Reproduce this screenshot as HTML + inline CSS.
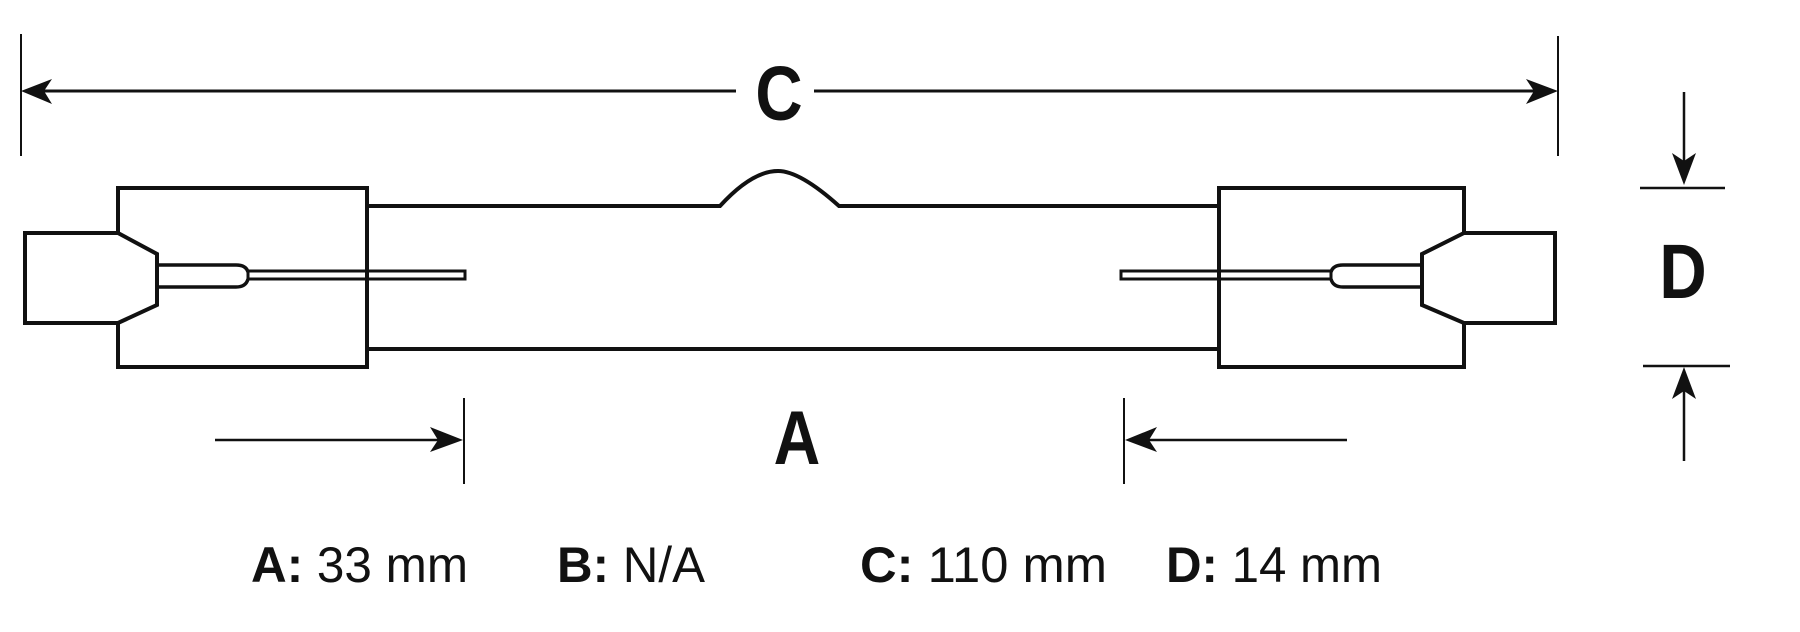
<!DOCTYPE html>
<html><head><meta charset="utf-8"><style>
html,body{margin:0;padding:0;background:#fff;}
svg{display:block;}
text{font-family:"Liberation Sans",Arial,sans-serif;fill:#111;}
</style></head><body>
<svg width="1800" height="632" viewBox="0 0 1800 632" xmlns="http://www.w3.org/2000/svg">
<g stroke="#111" fill="none">
  <line x1="21" y1="34" x2="21" y2="156" stroke-width="2"/>
  <line x1="1558" y1="36" x2="1558" y2="156" stroke-width="2"/>
  <line x1="30" y1="91" x2="736" y2="91" stroke-width="3"/>
  <line x1="814" y1="91" x2="1550" y2="91" stroke-width="3"/>
  <path d="M367 206 H720 Q752 171 778 171 Q800 171 839 206 H1219" stroke-width="4"/>
  <line x1="367" y1="349" x2="1219" y2="349" stroke-width="4"/>
  <path d="M118 233 V188 H367 V367 H118 V323" stroke-width="4"/>
  <path d="M118 233 H25 V323 H118 L157 305 V254 Z" stroke-width="4"/>
  <path d="M157 265 H236 Q246 265 248 272 M248 279 Q246 287 236 287 H157" stroke-width="3.5"/>
  <rect x="248" y="271" width="217" height="8" stroke-width="3"/>
  <path d="M1464 233 V188 H1219 V367 H1464 V323" stroke-width="4"/>
  <path d="M1464 233 H1555 V323 H1464 L1422 305 V254 Z" stroke-width="4"/>
  <path d="M1422 265 H1343 Q1333 265 1331 272 M1331 279 Q1333 287 1343 287 H1422" stroke-width="3.5"/>
  <rect x="1121" y="271" width="210" height="8" stroke-width="3"/>
  <line x1="464" y1="398" x2="464" y2="484" stroke-width="2"/>
  <line x1="1124" y1="398" x2="1124" y2="484" stroke-width="2"/>
  <line x1="215" y1="440" x2="450" y2="440" stroke-width="2.5"/>
  <line x1="1135" y1="440" x2="1347" y2="440" stroke-width="2.5"/>
  <line x1="1640" y1="188" x2="1725" y2="188" stroke-width="2.5"/>
  <line x1="1643" y1="366" x2="1730" y2="366" stroke-width="2.5"/>
  <line x1="1684" y1="92" x2="1684" y2="172" stroke-width="2.5"/>
  <line x1="1684" y1="382" x2="1684" y2="461" stroke-width="2.5"/>
</g>
<g fill="#111">
  <path d="M21 91 L52 79 L44 91 L52 104 Z"/>
  <path d="M1558 91 L1526 79 L1534 91 L1526 104 Z"/>
  <path d="M463 440 L430 427 L438 440 L430 452 Z"/>
  <path d="M1125 440 L1157 427 L1149 440 L1157 452 Z"/>
  <path d="M1684 185 L1672 153 L1684 161 L1696 153 Z"/>
  <path d="M1684 367 L1672 399 L1684 391 L1696 399 Z"/>
</g>
<text x="779" y="120" font-size="77" font-weight="bold" text-anchor="middle" transform="translate(779 0) scale(0.85 1) translate(-779 0)">C</text>
<text x="797" y="464" font-size="76" font-weight="bold" text-anchor="middle" transform="translate(797 0) scale(0.85 1) translate(-797 0)">A</text>
<text x="1683" y="298" font-size="77" font-weight="bold" text-anchor="middle" transform="translate(1683 0) scale(0.85 1) translate(-1683 0)">D</text>
<g font-size="50">
  <text x="251" y="582" textLength="217" lengthAdjust="spacingAndGlyphs"><tspan font-weight="bold">A:</tspan> 33 mm</text>
  <text x="557" y="582" textLength="148" lengthAdjust="spacingAndGlyphs"><tspan font-weight="bold">B:</tspan> N/A</text>
  <text x="860" y="582" textLength="247" lengthAdjust="spacingAndGlyphs"><tspan font-weight="bold">C:</tspan> 110 mm</text>
  <text x="1166" y="582" textLength="216" lengthAdjust="spacingAndGlyphs"><tspan font-weight="bold">D:</tspan> 14 mm</text>
</g>
</svg>
</body></html>
